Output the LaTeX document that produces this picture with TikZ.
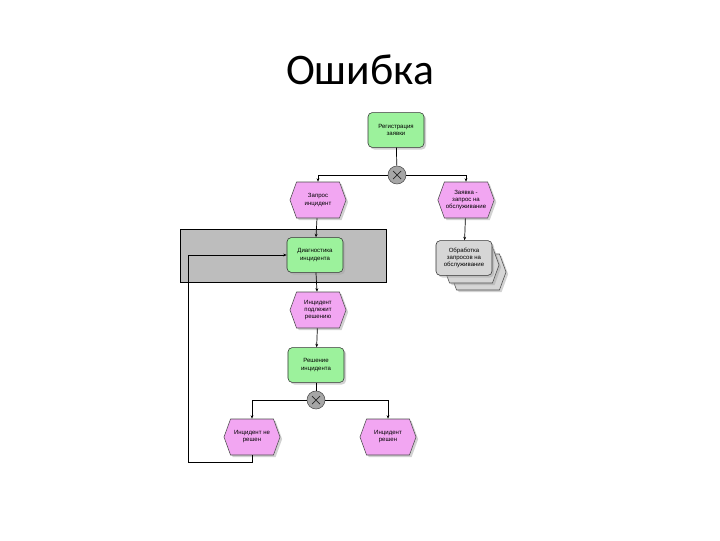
\documentclass[tikz,border=0pt]{standalone}
\usepackage{fontspec}
\setmainfont{Liberation Sans}
\newfontfamily\titlefont{Carlito}
\usetikzlibrary{shapes.symbols,shadows,arrows.meta}

\definecolor{funcgreen}{HTML}{9CF29C}
\definecolor{evtpink}{HTML}{F2A6F2}
\definecolor{bandgray}{HTML}{BDBDBD}
\definecolor{ifacegray}{HTML}{D6D6D6}

\tikzset{
  func/.style={draw=black!80, fill=funcgreen, rounded corners=3pt, minimum width=1.4cm,
    minimum height=0.87cm, align=center, font=\fontsize{4.3}{5}\selectfont,
    drop shadow={shadow xshift=1.5pt, shadow yshift=-1.5pt, fill=black!35}},
  evt/.style={draw=black!70, fill=evtpink, signal, signal to=east and west,
    signal pointer angle=140, minimum width=1.4cm, minimum height=0.9cm, inner sep=1pt,
    align=center, font=\fontsize{4.3}{5}\selectfont,
    drop shadow={shadow xshift=1.5pt, shadow yshift=-1.5pt, fill=black!35}},
  gate/.style={draw=black!70, fill=black!35, circle, minimum size=0.45cm, inner sep=0pt,
    path picture={\draw[black!85, line width=0.5pt]
      ([shift={(-0.1cm,0.1cm)}]path picture bounding box.center) -- ([shift={(0.1cm,-0.1cm)}]path picture bounding box.center)
      ([shift={(-0.1cm,-0.1cm)}]path picture bounding box.center) -- ([shift={(0.1cm,0.1cm)}]path picture bounding box.center);}},
  conn/.style={draw, line width=0.5pt, -{Stealth[length=2.5pt, width=2pt]}},
  link/.style={draw, line width=0.5pt}
}

\begin{document}
\begin{tikzpicture}[x=0.025cm, y=-0.025cm]
  \useasboundingbox (0,0) rectangle (720,540);

  % Title
  \node (title) at (360,70) {\titlefont\fontsize{31}{36}\selectfont Ошибка};

  % Grey band
  \draw[fill=bandgray, line width=0.6pt] (180,229) rectangle (386,282);

  % Functions
  \node[func] (reg) at (396,130) {Регистрация\\заявки};
  \node[func] (diag) at (315,255) {Диагностика\\инцидента};
  \node[func] (resh) at (316,365) {Решение\\инцидента};

  % Events
  \node[evt] (req) at (318,200) {Запрос\\инцидент};
  \node[evt] (zav) at (466,200) {Заявка -\\запрос на\\обслуживание};
  \node[evt] (podl) at (318,310) {Инцидент\\подлежит\\решению};
  \node[evt] (nresh) at (252,437) {Инцидент не\\решен};
  \node[evt] (reshen) at (388,437) {Инцидент\\решен};

  % Process interface
  \node[evt, fill=ifacegray, drop shadow={opacity=0}] (obr2) at (478,272) {};
  \node[evt, fill=ifacegray] (obr1) at (471,265) {};
  \node[func, fill=ifacegray] (obr) at (464,258) {Обработка\\запросов на\\обслуживание};

  % Gateways
  \node[gate] (g1) at (397,175) {};
  \node[gate] (g2) at (316,400) {};

  % Connections
  \path[link] (reg) -- (g1);
  \path[conn] (g1.west) -| (req.north);
  \path[conn] (g1.east) -| (zav.north);
  \path[conn] (req) -- (diag);
  \path[conn] (zav) -- (obr);
  \path[conn] (diag) -- (podl);
  \path[conn] (podl) -- (resh);
  \path[link] (resh) -- (g2);
  \path[conn] (g2.west) -| (nresh.north);
  \path[conn] (g2.east) -| (reshen.north);

  % Loop back
  \coordinate (loopb) at (188,462);
  \coordinate (loopt) at (188,255);
  \path[conn] (nresh.south) |- (loopb) -- (loopt) -- (diag.west);
\end{tikzpicture}
\end{document}
